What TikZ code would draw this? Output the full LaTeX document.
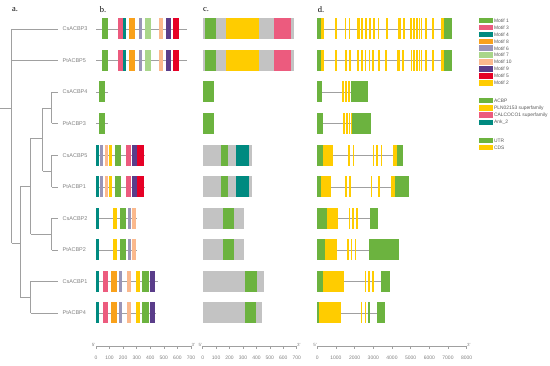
\documentclass[tikz,border=0pt]{standalone}
\usepackage{fontspec}
\setmainfont{Liberation Serif}
\setsansfont{Liberation Sans}

\definecolor{mgreen}{HTML}{6CB33F}
\definecolor{mpink}{HTML}{EC5B7E}
\definecolor{mteal}{HTML}{008A80}
\definecolor{morange}{HTML}{F9A11B}
\definecolor{mgpurple}{HTML}{9A95B8}
\definecolor{mlgreen}{HTML}{A9D68A}
\definecolor{mpeach}{HTML}{FBB98D}
\definecolor{mdpurple}{HTML}{5A3D8A}
\definecolor{mred}{HTML}{E60026}
\definecolor{myellow}{HTML}{FFCC00}
\definecolor{bggray}{HTML}{C3C3C3}
\definecolor{lngray}{HTML}{A0A0A0}
\definecolor{txtgray}{HTML}{808080}
\definecolor{lgdtxt}{HTML}{5A5A5A}

\tikzset{
  leaf/.style={font=\sffamily\fontsize{5.5}{6}\selectfont, text=txtgray, anchor=west, inner xsep=4.5pt, inner ysep=0pt},
  lgd/.style={font=\sffamily\fontsize{4.9}{6}\selectfont, text=lgdtxt, anchor=west, inner sep=0.6pt},
  panel/.style={font=\fontsize{8.5}{9}\selectfont, inner sep=0pt},
  ticklab/.style={font=\sffamily\fontsize{5}{6}\selectfont, text=txtgray, inner sep=0pt},
  endlab/.style={font=\sffamily\fontsize{4.5}{5}\selectfont, text=txtgray, inner sep=0.3pt},
  tree/.style={draw=lngray, line width=0.5pt},
  trk/.style={draw=lngray, line width=0.7pt},
  axis/.style={draw=lngray, line width=0.5pt}
}

% box of one row: colour, from x, to x, row y
\newcommand{\bx}[4]{\fill[#1] (#2,{#4-10.5}) rectangle (#3,{#4+10.5});}
% thin CDS exon: centre x, row y
\newcommand{\ex}[2]{\fill[myellow] ({#1-0.8},{#2-10.5}) rectangle ({#1+0.8},{#2+10.5});}
% legend entry: colour, y, text, name
\newcommand{\lgdentry}[4]{\fill[#1] (479.3,{#2-2.8}) rectangle (492.7,{#2+2.8});
  \node[lgd] (#4) at (493.3,#2) {#3};}

\begin{document}
\begin{tikzpicture}[x=1pt, y=-1pt]
  \useasboundingbox (0,0) rectangle (550,366);

  % panel letters
  \node[panel] (pa) at (15,10) {a.};
  \node[panel] (pb) at (103,10) {b.};
  \node[panel] (pc) at (206,10) {c.};
  \node[panel] (pd) at (321,10) {d.};

  % a. tree
  \node[leaf] (cs3) at (58,29) {CsACBP3};
  \node[leaf] (pt5) at (58,60.5) {PtACBP5};
  \node[leaf] (cs4) at (58,92) {CsACBP4};
  \node[leaf] (pt3) at (58,123.5) {PtACBP3};
  \node[leaf] (cs5) at (58,155.5) {CsACBP5};
  \node[leaf] (pt1) at (58,187) {PtACBP1};
  \node[leaf] (cs2) at (58,218.5) {CsACBP2};
  \node[leaf] (pt2) at (58,250) {PtACBP2};
  \node[leaf] (cs1) at (58,281.5) {CsACBP1};
  \node[leaf] (pt4) at (58,313) {PtACBP4};

  \draw[tree] (0,108) -- (11.7,108);
  \draw[tree] (11.7,29) -- (11.7,243);
  \draw[tree] (11.7,29) -- (cs3.west);
  \draw[tree] (11.7,60.5) -- (pt5.west);
  \draw[tree] (11.7,243) -- (20,243);
  \draw[tree] (20,186) -- (20,297);
  \draw[tree] (20,186) -- (30.7,186);
  \draw[tree] (30.7,138) -- (30.7,234);
  \draw[tree] (30.7,138) -- (42.7,138);
  \draw[tree] (42.7,108) -- (42.7,171);
  \draw[tree] (42.7,108) -- (51.7,108);
  \draw[tree] (51.7,92) -- (51.7,123.5);
  \draw[tree] (51.7,92) -- (cs4.west);
  \draw[tree] (51.7,123.5) -- (pt3.west);
  \draw[tree] (42.7,171) -- (51.7,171);
  \draw[tree] (51.7,155.5) -- (51.7,187);
  \draw[tree] (51.7,155.5) -- (cs5.west);
  \draw[tree] (51.7,187) -- (pt1.west);
  \draw[tree] (30.7,234) -- (51.7,234);
  \draw[tree] (51.7,218.5) -- (51.7,250);
  \draw[tree] (51.7,218.5) -- (cs2.west);
  \draw[tree] (51.7,250) -- (pt2.west);
  \draw[tree] (20,297) -- (30.7,297);
  \draw[tree] (30.7,281.5) -- (30.7,313);
  \draw[tree] (30.7,281.5) -- (cs1.west);
  \draw[tree] (30.7,313) -- (pt4.west);

  % b. motifs
  \foreach \y in {29,60.5} {
    \draw[trk] (96,\y) -- (187,\y);
    \bx{mgreen}{102}{108}{\y}
    \bx{mpink}{118}{123.3}{\y}
    \bx{mteal}{123.3}{126}{\y}
    \bx{morange}{128.7}{134.7}{\y}
    \bx{mgpurple}{138.7}{142}{\y}
    \bx{mlgreen}{145.3}{151.3}{\y}
    \bx{mpeach}{159.3}{162.7}{\y}
    \bx{mdpurple}{166}{171.3}{\y}
    \bx{mred}{173.3}{179.3}{\y}
  }
  \foreach \y in {92,123.5} {
    \draw[trk] (96,\y) -- (108,\y);
    \bx{mgreen}{99.3}{105.3}{\y}
  }
  \foreach \y in {155.5,187} {
    \draw[trk] (96,\y) -- (145.3,\y);
    \bx{mteal}{96}{98.7}{\y}
    \bx{mgpurple}{100}{103.3}{\y}
    \bx{mpeach}{104.7}{108}{\y}
    \bx{myellow}{109}{112.3}{\y}
    \bx{mgreen}{114.7}{121.3}{\y}
    \bx{mpink}{125.7}{131.3}{\y}
    \bx{mdpurple}{132}{137}{\y}
    \bx{mred}{137}{144}{\y}
  }
  \foreach \y in {218.5,250} {
    \draw[trk] (96,\y) -- (137.3,\y);
    \bx{mteal}{96}{98.7}{\y}
    \bx{myellow}{113.3}{116.7}{\y}
    \bx{mgreen}{120}{126.3}{\y}
    \bx{mgpurple}{127.7}{131.3}{\y}
    \bx{mpeach}{132.3}{135.7}{\y}
  }
  \foreach \y/\e in {281.5/158,313/155.5} {
    \draw[trk] (96,\y) -- (\e,\y);
    \bx{mteal}{96}{98.7}{\y}
    \bx{mpink}{102.7}{108}{\y}
    \bx{morange}{111}{117.3}{\y}
    \bx{mgpurple}{118.7}{122.3}{\y}
    \bx{mpeach}{127}{130.7}{\y}
    \bx{myellow}{136}{139.7}{\y}
    \bx{mgreen}{142}{149}{\y}
    \bx{mdpurple}{149.7}{155.3}{\y}
  }

  % c. domains
  \foreach \y in {29,60.5} {
    \bx{bggray}{203.3}{294}{\y}
    \bx{mgreen}{205}{216}{\y}
    \bx{myellow}{225.7}{259.3}{\y}
    \bx{mpink}{274}{290.7}{\y}
  }
  \foreach \y in {92,123.5} {
    \bx{mgreen}{203.3}{214.3}{\y}
  }
  \foreach \y in {155.5,187} {
    \bx{bggray}{202.7}{251.7}{\y}
    \bx{mgreen}{221}{228.3}{\y}
    \bx{mteal}{236.3}{248.7}{\y}
  }
  \foreach \y in {218.5,250} {
    \bx{bggray}{202.7}{244}{\y}
    \bx{mgreen}{222.7}{234}{\y}
  }
  \bx{bggray}{202.7}{264}{281.5}
  \bx{mgreen}{245}{256.7}{281.5}
  \bx{bggray}{202.7}{262.3}{313}
  \bx{mgreen}{245}{256}{313}

  % d. gene structures
  \draw[trk] (320,29) -- (445,29);
  \bx{mgreen}{317.3}{321.3}{29}
  \bx{myellow}{321.3}{324.3}{29}
  \foreach \x in {336,345.5,349.5,362,366,370,374,378.5,387,404,411,414,417,419.5,421.5,426,433} {\ex{\x}{29}}
  \bx{myellow}{357}{360}{29}
  \bx{myellow}{397.5}{400.5}{29}
  \bx{myellow}{441.3}{444}{29}
  \bx{mgreen}{444}{451.7}{29}

  \draw[trk] (320,60.5) -- (445,60.5);
  \bx{mgreen}{317.3}{320.7}{60.5}
  \bx{myellow}{320.7}{324}{60.5}
  \foreach \x in {336,346,350,362,365.3,369.3,372.7,378.7,386,402.7,411.3,414,416.7,419.3,421.3,426,432.7} {\ex{\x}{60.5}}
  \bx{myellow}{356.7}{359.3}{60.5}
  \bx{myellow}{397.3}{400}{60.5}
  \bx{myellow}{441.3}{444}{60.5}
  \bx{mgreen}{444}{451.7}{60.5}

  \draw[trk] (320,92) -- (351,92);
  \bx{mgreen}{317.3}{322}{92}
  \foreach \x in {342.7,346,348.7} {\ex{\x}{92}}
  \bx{mgreen}{350.7}{368}{92}

  \draw[trk] (320,123.5) -- (352,123.5);
  \bx{mgreen}{317.3}{323.3}{123.5}
  \foreach \x in {344,346.7,349.3} {\ex{\x}{123.5}}
  \bx{myellow}{350.7}{352}{123.5}
  \bx{mgreen}{352}{370.7}{123.5}

  \draw[trk] (330,155.5) -- (395,155.5);
  \bx{mgreen}{317.3}{323.3}{155.5}
  \bx{myellow}{323.3}{332.7}{155.5}
  \foreach \x in {348.7,353.3,373.3,376.7,381.3} {\ex{\x}{155.5}}
  \bx{myellow}{393.3}{397.3}{155.5}
  \bx{mgreen}{397.3}{403.3}{155.5}

  \draw[trk] (330,187) -- (392,187);
  \bx{mgreen}{317.3}{321.3}{187}
  \bx{myellow}{321.3}{330.7}{187}
  \foreach \x in {346,350,371.3,378.7} {\ex{\x}{187}}
  \bx{myellow}{391.3}{394.7}{187}
  \bx{mgreen}{394.7}{408.7}{187}

  \draw[trk] (336,218.5) -- (371,218.5);
  \bx{mgreen}{317.3}{326.7}{218.5}
  \bx{myellow}{326.7}{338}{218.5}
  \foreach \x in {349.3,352.7,356.7} {\ex{\x}{218.5}}
  \bx{mgreen}{370}{378}{218.5}

  \draw[trk] (335,250) -- (370,250);
  \bx{mgreen}{317.3}{325.3}{250}
  \bx{myellow}{325.3}{336.7}{250}
  \foreach \x in {348,351.3,355.3} {\ex{\x}{250}}
  \bx{mgreen}{368.7}{399.3}{250}

  \draw[trk] (342,281.5) -- (382,281.5);
  \bx{mgreen}{317.3}{323.3}{281.5}
  \bx{myellow}{323.3}{344}{281.5}
  \foreach \x in {365.3,368.7,372.7} {\ex{\x}{281.5}}
  \bx{mgreen}{380.7}{390}{281.5}

  \draw[trk] (339,313) -- (378,313);
  \bx{mgreen}{317.3}{319.3}{313}
  \bx{myellow}{319.3}{340.7}{313}
  \foreach \x in {361.3,365.3} {\ex{\x}{313}}
  \fill[mgreen] (367.9,302.5) rectangle (369.5,323.5);
  \bx{mgreen}{376.7}{385.3}{313}

  % legend
  \lgdentry{mgreen}{20.7}{Motif 1}{lm1}
  \lgdentry{mpink}{27.6}{Motif 3}{lm3}
  \lgdentry{mteal}{34.5}{Motif 4}{lm4}
  \lgdentry{morange}{41.4}{Motif 8}{lm8}
  \lgdentry{mgpurple}{48.3}{Motif 6}{lm6}
  \lgdentry{mlgreen}{55.2}{Motif 7}{lm7}
  \lgdentry{mpeach}{62.1}{Motif 10}{lm10}
  \lgdentry{mdpurple}{69}{Motif 9}{lm9}
  \lgdentry{mred}{75.9}{Motif 5}{lm5}
  \lgdentry{myellow}{82.8}{Motif 2}{lm2}

  \lgdentry{mgreen}{100.5}{ACBP}{lacbp}
  \lgdentry{myellow}{107.8}{PLN02153 superfamily}{lpln}
  \lgdentry{mpink}{115.1}{CALCOCO1 superfamily}{lcal}
  \lgdentry{mteal}{122.4}{Ank\_2}{lank}

  \lgdentry{mgreen}{140.7}{UTR}{lutr}
  \lgdentry{myellow}{147.7}{CDS}{lcds}

  % scale bars
  \draw[axis] (96,346) -- (191,346);
  \foreach \i in {0,...,7} {
    \draw[axis] ({96+13.57*\i},346) -- ({96+13.57*\i},349.5);
    \node[ticklab] (tb\i) at ({96+13.57*\i},357.5) {\pgfmathparse{int(100*\i)}\pgfmathresult};
  }
  \node[endlab, anchor=south east] (b5) at (96,347) {5'};
  \node[endlab, anchor=south west] (b3) at (191,347) {3'};

  \draw[axis] (202.7,346) -- (296.7,346);
  \foreach \i in {0,...,7} {
    \draw[axis] ({202.7+13.43*\i},346) -- ({202.7+13.43*\i},349.5);
    \node[ticklab] (tc\i) at ({202.7+13.43*\i},357.5) {\pgfmathparse{int(100*\i)}\pgfmathresult};
  }
  \node[endlab, anchor=south east] (c5) at (202.7,347) {5'};
  \node[endlab, anchor=south west] (c3) at (296.7,347) {3'};

  \draw[axis] (317.3,346) -- (466.7,346);
  \foreach \i in {0,...,8} {
    \draw[axis] ({317.3+18.67*\i},346) -- ({317.3+18.67*\i},349.5);
    \node[ticklab] (td\i) at ({317.3+18.67*\i},357.5) {\pgfmathparse{int(1000*\i)}\pgfmathresult};
  }
  \node[endlab, anchor=south east] (d5) at (317.3,347) {5'};
  \node[endlab, anchor=south west] (d3) at (466.7,347) {3'};
\end{tikzpicture}
\end{document}
